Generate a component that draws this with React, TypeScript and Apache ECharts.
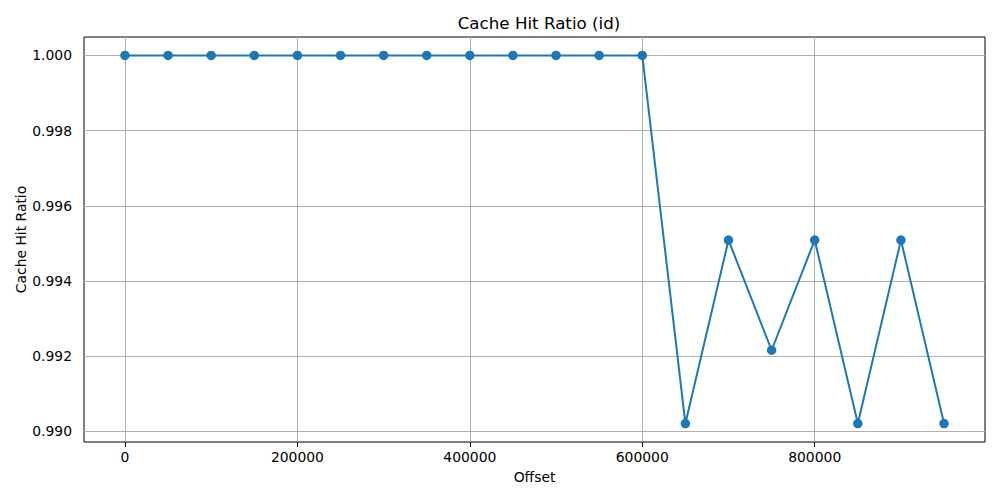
import React, { useEffect, useRef } from 'react';
import * as echarts from 'echarts';

// 数据
const offsets = [
  0, 50000, 100000, 150000, 200000, 250000, 300000, 350000, 400000, 450000,
  500000, 550000, 600000, 650000, 700000, 750000, 800000, 850000, 900000, 950000,
];
const hitRatios = [
  1.0, 1.0, 1.0, 1.0, 1.0, 1.0, 1.0, 1.0, 1.0, 1.0,
  1.0, 1.0, 1.0, 0.99021, 0.99509, 0.99216, 0.99509, 0.99021, 0.99509, 0.99021,
];
const xTicks = [0, 200000, 400000, 600000, 800000];
const yTicks = [0.99, 0.992, 0.994, 0.996, 0.998, 1.0];

const X_MIN = -47500;
const X_MAX = 997500;
const Y_MIN = 0.98972;
const Y_MAX = 1.00049;

const FONT = 'DejaVu Sans';
const GRID_COLOR = '#b0b0b0';

const App: React.FC = () => {
  const chartRef = useRef<HTMLDivElement>(null);

  useEffect(() => {
    if (!chartRef.current) return;
    const chart = echarts.init(chartRef.current, undefined, { renderer: 'svg' });

    // 网格线用 markLine 画（两端坐标）
    const gridLines: any[] = [
      ...xTicks.map(v => [{ coord: [v, Y_MIN] }, { coord: [v, Y_MAX] }]),
      ...yTicks.map(v => [{ coord: [X_MIN, v] }, { coord: [X_MAX, v] }]),
    ];

    const option = {
      animation: false,
      title: {
        text: 'Cache Hit Ratio (id)',
        left: 534,
        top: 9,
        textAlign: 'center',
        textStyle: { fontFamily: FONT, fontSize: 16.7, fontWeight: 'normal', color: '#000' },
      },
      grid: {
        left: 84,
        right: 15,
        top: 37,
        bottom: 58,
        show: true,
        borderColor: '#000',
        borderWidth: 1,
        backgroundColor: 'transparent',
      },
      xAxis: {
        type: 'value',
        min: X_MIN,
        max: X_MAX,
        name: 'Offset',
        nameLocation: 'middle',
        nameGap: 28,
        nameMoveOverlap: false,
        nameTextStyle: { fontFamily: FONT, fontSize: 13.9, color: '#000' },
        axisLine: { show: false },
        axisTick: { show: true, length: 5, inside: false, customValues: xTicks, lineStyle: { color: '#000' } },
        axisLabel: {
          customValues: xTicks,
          margin: 8,
          fontFamily: FONT,
          fontSize: 13.9,
          color: '#000',
          formatter: (v: number) => String(v),
        },
        splitLine: { show: false },
      },
      yAxis: {
        type: 'value',
        min: Y_MIN,
        max: Y_MAX,
        name: 'Cache Hit Ratio',
        nameLocation: 'middle',
        nameGap: 56,
        nameRotate: 90,
        nameMoveOverlap: false,
        nameTextStyle: { fontFamily: FONT, fontSize: 13.9, color: '#000' },
        axisLine: { show: false },
        axisTick: { show: true, length: 5, inside: false, customValues: yTicks, lineStyle: { color: '#000' } },
        axisLabel: {
          customValues: yTicks,
          margin: 12,
          fontFamily: FONT,
          fontSize: 13.9,
          color: '#000',
          formatter: (v: number) => v.toFixed(3),
        },
        splitLine: { show: false },
      },
      series: [
        {
          type: 'line',
          data: offsets.map((x, i) => [x, hitRatios[i]]),
          symbol: 'circle',
          symbolSize: 9.5,
          showAllSymbol: true,
          itemStyle: { color: '#1f77b4' },
          lineStyle: { color: '#1f77b4', width: 2 },
          markLine: {
            silent: true,
            symbol: 'none',
            label: { show: false },
            lineStyle: { color: GRID_COLOR, width: 1, type: 'solid' },
            data: gridLines,
            z: 1,
          },
        },
      ],
    };

    chart.setOption(option);
    return () => chart.dispose();
  }, []);

  return (
    <div
      ref={chartRef}
      style={{ position: 'fixed', left: 0, top: 0, width: '1000px', height: '500px', background: '#fff' }}
    ></div>
  );
};

export default App;
